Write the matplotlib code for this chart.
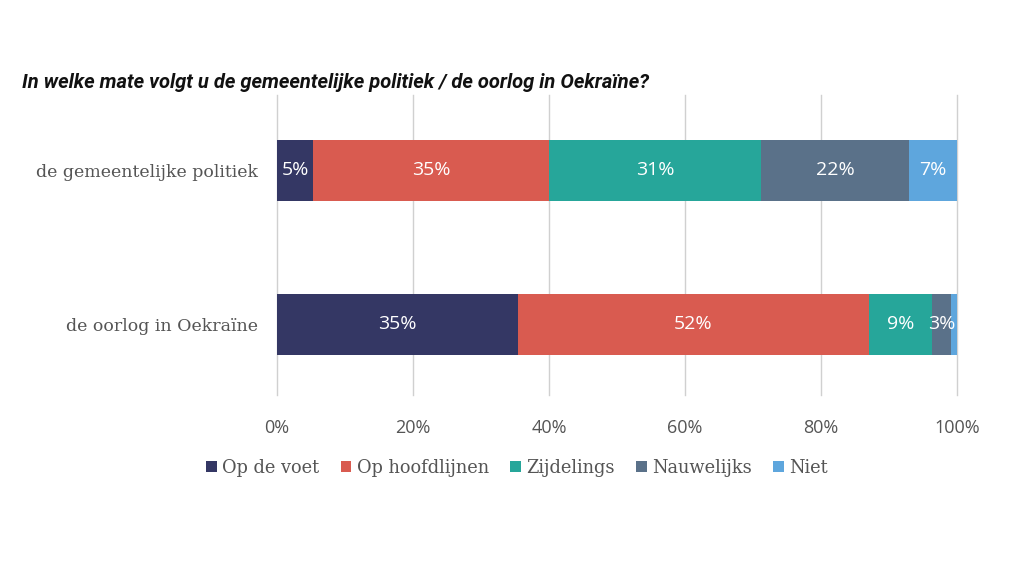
import matplotlib
matplotlib.use("Agg")
import matplotlib.pyplot as plt
import numpy as np
from matplotlib.patches import Patch

categories = ["de gemeentelijke politiek", "de oorlog in Oekraïne"]
series = ["Op de voet", "Op hoofdlijnen", "Zijdelings", "Nauwelijks", "Niet"]
values = {
    "Op de voet": [5.3, 35.4],
    "Op hoofdlijnen": [34.7, 51.6],
    "Zijdelings": [31.2, 9.3],
    "Nauwelijks": [21.8, 2.8],
    "Niet": [7.0, 0.9],
}
labels = {
    "Op de voet": ["5%", "35%"],
    "Op hoofdlijnen": ["35%", "52%"],
    "Zijdelings": ["31%", "9%"],
    "Nauwelijks": ["22%", "3%"],
    "Niet": ["7%", ""],
}
colors = ["#343764", "#D95B50", "#26A69A", "#5A7189", "#5EA6DD"]
ticks = [0, 20, 40, 60, 80, 100]
tick_labels = ["0%", "20%", "40%", "60%", "80%", "100%"]
title = "In welke mate volgt u de gemeentelijke politiek / de oorlog in Oekra\u00efne?"

fig = plt.figure(figsize=(10.3, 5.8), dpi=100)
ax = fig.add_axes([277/1030, 1-395/580, (957-277)/1030, 300/580])

y = np.arange(len(categories))
left = np.zeros(len(categories))
for s, c in zip(series, colors):
    v = np.array(values[s])
    bars = ax.barh(y, v, left=left, height=0.4, color=c, zorder=3)
    for i, b in enumerate(bars):
        lab = labels[s][i]
        if lab:
            ax.text(left[i] + v[i]/2, y[i], lab, ha="center", va="center",
                    color="white", fontsize=14, family="Open Sans", zorder=4)
    left += v

ax.set_xlim(0, 100)
ax.set_ylim(1.458, -0.49)
ax.set_yticks(y)
ax.set_yticklabels(categories, family="DejaVu Serif", fontsize=12.5, color="#555555")
ax.set_xticks(ticks)
ax.set_xticklabels(tick_labels, family="Open Sans", fontsize=13, color="#555555")
ax.tick_params(axis="both", length=0)
ax.tick_params(axis="x", pad=17)
ax.tick_params(axis="y", pad=14)
for t in ticks:
    ax.axvline(t, color="#d0d0d0", linewidth=1, zorder=0, clip_on=False)
for sp in ax.spines.values():
    sp.set_visible(False)

fig.text(22/1030, 1-83/580, title, fontsize=14.5, fontweight="bold", style="italic",
         family="Roboto", va="center", ha="left", color="#111111")

handles = [Patch(facecolor=c, edgecolor="none") for c in colors]
leg = fig.legend(handles, series, loc="center", bbox_to_anchor=(517/1030, 1-468/580),
                 ncol=5, frameon=False, handlelength=0.6, handleheight=0.6,
                 handletextpad=0.3, columnspacing=1.2,
                 prop={"family": "DejaVu Serif", "size": 12.8})
for t in leg.get_texts():
    t.set_color("#555555")

fig.savefig("out.png", dpi=100, facecolor="white")
